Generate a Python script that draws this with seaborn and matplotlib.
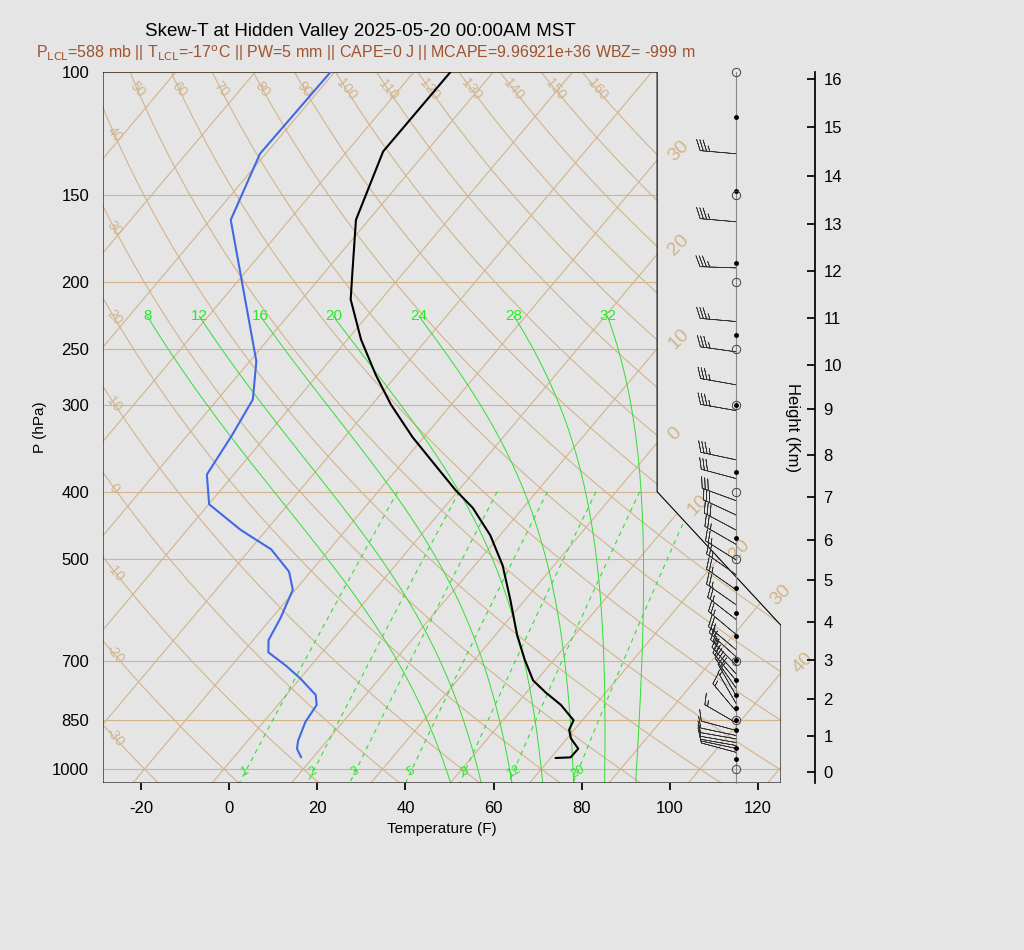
import numpy as np
import pandas as pd
import matplotlib
matplotlib.use("Agg")
import matplotlib.pyplot as plt
import seaborn as sns
from matplotlib.patches import Polygon

# ---------------- data ----------------
temp_p = [964, 962, 935, 903, 878, 851, 809, 776, 746, 697, 643, 572, 510, 462, 422, 398,
          360, 334, 300, 272, 242, 212, 196, 163, 130, 100]
temp_f = [69.1, 72.4, 72.5, 68.8, 66.8, 66.0, 60.2, 54.3, 49.2, 43.4, 37.0, 28.7, 20.3, 11.8,
          2.6, -4.7, -16.1, -24.6, -35.7, -44.8, -54.9, -64.9, -69.1, -78.9, -85.8, -85.7]
dew_p = [962, 935, 910, 856, 809, 783, 741, 710, 680, 653, 607, 553, 521, 484, 454, 417,
         378, 332, 295, 260, 163, 131, 100]
dew_f = [11.3, 8.7, 7.4, 5.5, 4.8, 2.7, -4.0, -9.8, -16.2, -18.5, -20.0, -22.6, -26.9, -35.2,
         -45.8, -57.9, -64.1, -65.9, -68.0, -74.5, -107.3, -113.3, -112.9]

wind_p = [131, 164, 191, 228, 252, 281, 306, 360, 383, 412, 432, 454, 476, 501, 526, 553, 581,
          610, 641, 674, 690, 709, 730, 746, 765, 784, 805, 826, 858, 880, 895, 905, 916, 925,
          934, 946]
wind_spd = [35, 35, 35, 35, 35, 35, 35, 35, 30, 30, 30, 30, 25, 25, 25, 25, 25, 25, 25, 25,
            25, 25, 25, 20, 20, 20, 15, 15, 15, 10, 10, 10, 10, 10, 10, 10]
wind_dir = [275, 275, 272, 275, 278, 280, 280, 282, 285, 290, 295, 298, 300, 302, 305, 305, 305,
            308, 310, 310, 312, 315, 318, 320, 325, 330, 330, 320, 300, 285, 282, 280, 280, 280,
            282, 285]

dot_p = [116, 148, 188, 238, 300, 375, 466, 549, 597, 644, 698, 746, 784, 818, 851, 878, 934, 968]
circle_p = [100, 150, 200, 250, 300, 400, 500, 700, 850, 1000]

height_km = list(range(17))
height_p = [1010, 897, 794, 698, 615, 536, 469, 407, 354, 304, 263, 225, 193, 165, 141, 120, 102.3]

isobars = [100, 150, 200, 250, 300, 400, 500, 700, 850, 1000]
isotherms_c = list(range(-110, 51, 10))
dry_theta_c = list(range(-30, 161, 10))
moist_thw_c = [8, 12, 16, 20, 24, 28, 32]
mix_ratio = [1, 2, 3, 5, 8, 12, 20]

title = "Skew-T at Hidden Valley 2025-05-20 00:00AM MST"
subtitle = (r"P$_{\rm LCL}$=588 mb || T$_{\rm LCL}$=-17$^{\rm o}$C || PW=5 mm || CAPE=0 J || "
            r"MCAPE=9.96921e+36 WBZ= -999 m")

# ---------------- helpers ----------------
SKEW = 133.1  # F per decade of pressure
P0 = 1050.0
def skx(tf, p):
    return np.asarray(tf) + SKEW * np.log10(P0 / np.asarray(p, dtype=float))
def c2f(c):
    return np.asarray(c) * 9 / 5 + 32
def es(tc):
    return 6.112 * np.exp(17.67 * tc / (tc + 243.5))

TAN = "#d2b48c"
GREEN = "#33dd33"
LABG = "#22ee22"

sns.set_theme(style="white")
plt.rcParams["font.family"] = ["Liberation Sans", "DejaVu Sans"]
bg = "#e5e5e5"
fig = plt.figure(figsize=(10.24, 9.5), dpi=100, facecolor=bg)
ax = fig.add_axes([103 / 1024, 1 - 783 / 950, 678 / 1024, 711 / 950])
ax.set_facecolor(bg)
ax.set_yscale("log")
XL, XR = -28.6, 125.2
ax.set_xlim(XL, XR)
ax.set_ylim(1047, 100)
for s in ax.spines.values():
    s.set_visible(False)

poly = Polygon([(XL, 100), (97.1, 100), (97.1, 400), (125.2, 622), (125.2, 1047), (XL, 1047)],
               closed=True, fill=False, edgecolor="black", lw=0.8, transform=ax.transData, zorder=10)
ax.add_patch(poly)
clip = Polygon(poly.get_xy(), closed=True, transform=ax.transData)

pp = np.logspace(np.log10(95), np.log10(1100), 300)
lines = []
for p in isobars:
    lines += ax.plot([XL, XR], [p, p], color=TAN, lw=0.8)
for t in isotherms_c:
    lines += ax.plot(skx(c2f(t), pp), pp, color=TAN, lw=0.8)
for th in dry_theta_c:
    tk = (th + 273.15) * (pp / 1000) ** 0.2857
    lines += ax.plot(skx(c2f(tk - 273.15), pp), pp, color=TAN, lw=0.8)
pm = np.logspace(np.log10(400), np.log10(1050), 100)
for w in mix_ratio:
    e = w * pm / (622 + w)
    td = 243.5 * np.log(e / 6.112) / (17.67 - np.log(e / 6.112))
    lines += ax.plot(skx(c2f(td), pm), pm, color=GREEN, lw=0.8, ls=(0, (4, 4)))
    ax.text(skx(c2f(np.interp(1010, pm, td)), 1010), 1010, str(w), color=LABG, fontsize=9,
            ha="center", va="center", rotation=30)
def moist(thw):
    eps, Rd, Lv, Cp = 0.622, 287.0, 2.5e6, 1005.0
    def step(p, T, dp):
        tc = T - 273.15
        rs = eps * es(tc) / (p - es(tc))
        d = (Rd * T + Lv * rs) / p / (Cp + Lv ** 2 * rs * eps / (Rd * T ** 2))
        return T + d * dp
    ps = [1000.0]; ts = [thw + 273.15]
    p, T = 1000.0, thw + 273.15
    while p > 225:
        T = step(p, T, -2.0); p -= 2.0
        ps.append(p); ts.append(T)
    p, T = 1000.0, thw + 273.15
    up_p, up_t = [], []
    while p < 1050:
        T = step(p, T, 2.0); p += 2.0
        up_p.append(p); up_t.append(T)
    allp = np.array(up_p[::-1] + ps); allt = np.array(up_t[::-1] + ts)
    return allp, allt - 273.15
for th in moist_thw_c:
    mp, mt = moist(th)
    lines += ax.plot(skx(c2f(mt), mp), mp, color=GREEN, lw=0.7)
    ax.text(skx(c2f(mt[-1]), mp[-1]), 229, str(th), color=LABG, fontsize=11,
            ha="center", va="bottom")
for ln in lines:
    ln.set_clip_path(clip)

pf = np.logspace(np.log10(100), np.log10(1047), 2000)
for th in dry_theta_c:
    tk = (th + 273.15) * (pf / 1000) ** 0.2857
    xs = skx(c2f(tk - 273.15), pf)
    if th >= 50:
        ax.text(skx(c2f((th + 273.15) * (106 / 1000) ** 0.2857 - 273.15), 106), 106, str(th),
                color=TAN, fontsize=10, rotation=-50, ha="center", va="center")
    else:
        pl = np.interp(-26.0, xs, pf)
        ax.text(-26.0, pl, str(th), color=TAN, fontsize=10, rotation=-50, ha="center", va="center")
for t in [-30, -20, -10, 0]:
    pl = P0 / 10 ** ((98.9 - c2f(t)) / SKEW)
    ax.text(98.9, pl, str(abs(t)), color=TAN, fontsize=14, rotation=45, ha="left", va="center")
for t, yp in zip([10, 20, 30, 40], [505, 550, 595, 663]):
    pl = 100 * 10 ** ((yp - 72) / 697)
    ax.text(skx(c2f(t), pl), pl, str(t), color=TAN, fontsize=14, rotation=45,
            ha="left", va="center", clip_on=False)

dft = pd.DataFrame({"x": skx(temp_f, temp_p), "p": temp_p})
dfd = pd.DataFrame({"x": skx(dew_f, dew_p), "p": dew_p})
sns.lineplot(data=dft, x="x", y="p", sort=False, color="black", lw=1.5, ax=ax, zorder=12)
sns.lineplot(data=dfd, x="x", y="p", sort=False, color="#4169e1", lw=1.5, ax=ax, zorder=12)

# winds
ax.plot([115, 115], [100, 1047], color="#888888", lw=0.8, clip_on=False, zorder=10)
wd = np.radians(wind_dir)
u = -np.array(wind_spd) * np.sin(wd)
v = -np.array(wind_spd) * np.cos(wd)
ax.barbs(np.full(len(wind_p), 115.0), wind_p, u, v, length=7.2, lw=0.5, color="#333333",
         sizes=dict(spacing=0.09, height=0.3, width=0.25), clip_on=False, zorder=11)
ax.plot(np.full(len(dot_p), 115.0), dot_p, "o", color="black", ms=2.5, clip_on=False, zorder=13)
ax.plot(np.full(len(circle_p), 115.0), circle_p, "o", mfc="none", mec="#444444", ms=6, mew=0.7,
        clip_on=False, zorder=13)

ax.set_yticks(isobars)
ax.set_yticklabels([str(p) for p in isobars], fontsize=12, color="black")
ax.yaxis.set_minor_locator(matplotlib.ticker.NullLocator())
ax.set_xticks(range(-20, 121, 20))
ax.set_xticklabels([str(t) for t in range(-20, 121, 20)], fontsize=12, color="black")
ax.tick_params(axis="x", length=5, direction="out", color="black", bottom=True, pad=8)
ax.tick_params(axis="y", length=0, pad=10)
ax.set_xlabel("Temperature (F)", fontsize=11, color="black")
ax.set_ylabel("P (hPa)", fontsize=11, labelpad=4, color="black")

ax2 = ax.twinx()
ax2.set_yscale("log")
ax2.set_ylim(1047, 100)
for k, s in ax2.spines.items():
    s.set_visible(k == "right")
ax2.spines["right"].set_position(("outward", 24.5))
ax2.spines["right"].set_color("black")
ax2.set_yticks(height_p)
ax2.set_yticklabels([str(h) for h in height_km], fontsize=12, color="black")
ax2.yaxis.set_minor_locator(matplotlib.ticker.NullLocator())
ax2.tick_params(axis="y", direction="in", length=6, right=True, pad=6, color="black")
ax2.set_ylabel("Height (Km)", fontsize=12, rotation=270, color="black")
ax2.yaxis.set_label_coords((800 - 103) / 678, 0.5)

fig.text(360 / 1024, 1 - 32 / 950, title, ha="center", va="center", fontsize=13.5, color="black")
fig.text(366 / 1024, 1 - 53 / 950, subtitle, ha="center", va="center", fontsize=11.5,
         color="#a0522d")
fig.savefig("out.png", dpi=100, facecolor=bg)
